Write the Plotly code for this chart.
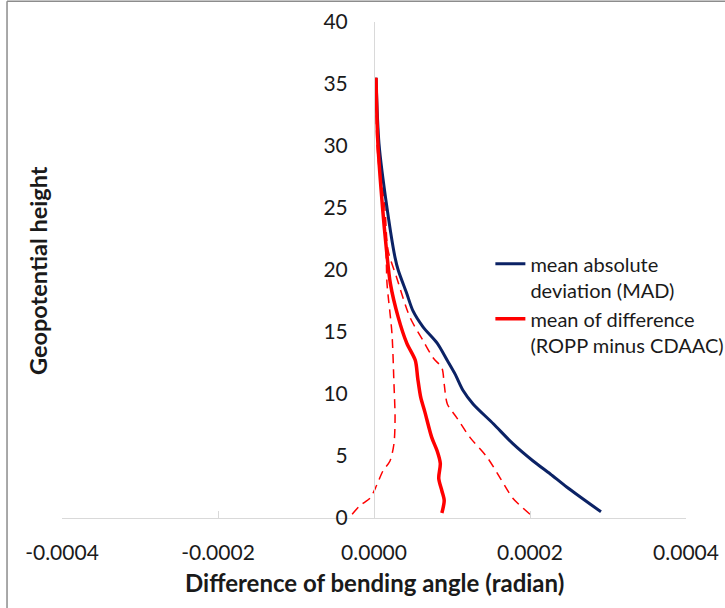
import plotly.graph_objects as go

# ---- data ----
mad_height = [0.5, 2.5, 3.55, 4.6, 6.0, 7.6, 9.2, 10.3, 11.6, 12.7, 14.1, 15.4, 16.7, 18.1, 20.0, 21.0, 25.0, 30.2, 35.5]
mad_value = [2.91e-4, 2.47e-4, 2.26e-4, 2.04e-4, 1.78e-4, 1.53e-4, 1.27e-4, 1.14e-4, 1.04e-4, 9.4e-5,
             8.1e-5, 6.3e-5, 5.0e-5, 4.2e-5, 3.1e-5, 2.7e-5, 1.67e-5, 6.4e-6, 2.6e-6]

mean_height = [0.4, 1.4, 2.2, 3.2, 4.4, 5.4, 6.5, 8.6, 9.7, 11.3, 12.7, 14.1, 16.2, 18.9, 21.6, 25.0, 30.2, 35.5]
mean_value = [8.7e-5, 9.0e-5, 8.7e-5, 8.3e-5, 8.5e-5, 8.1e-5, 7.4e-5, 6.5e-5, 6.0e-5, 5.6e-5,
              5.3e-5, 4.2e-5, 3.1e-5, 2.1e-5, 1.6e-5, 1.1e-5, 5.0e-6, 2.6e-6]

upper_height = [0.3, 1.6, 3.2, 4.9, 6.5, 8.1, 9.2, 10.8, 12.1, 12.9, 14.3, 16.2, 19.4, 21.6, 25.0, 30.2, 35.5]
upper_value = [2.0e-4, 1.78e-4, 1.62e-4, 1.45e-4, 1.23e-4, 1.06e-4, 9.4e-5, 9.0e-5, 8.7e-5, 7.6e-5,
               6.3e-5, 4.6e-5, 2.9e-5, 1.8e-5, 1.4e-5, 5.0e-6, 2.6e-6]

lower_height = [0.3, 1.0, 1.6, 2.7, 3.8, 4.6, 6.0, 8.1, 10.8, 14.9, 18.9, 21.6, 25.0, 30.2, 35.5]
lower_value = [-2.8e-5, -1.8e-5, -5.0e-6, 3.8e-6, 1.15e-5, 2.05e-5, 2.56e-5, 2.7e-5, 2.56e-5, 2.3e-5,
               1.67e-5, 1.54e-5, 1.15e-5, 3.8e-6, 2.6e-6]

x_tick_values = [-0.0004, -0.0002, 0.0, 0.0002, 0.0004]
x_tick_labels = ["-0.0004", "-0.0002", "0.0000", "0.0002", "0.0004"]
y_tick_values = [0, 5, 10, 15, 20, 25, 30, 35, 40]

NAVY = "#0b2265"
RED = "#ff0000"
FONT = "Lato"
TXT = "#1a1a1a"

fig = go.Figure()
fig.add_trace(go.Scatter(x=lower_value, y=lower_height, mode="lines", showlegend=False,
                         line=dict(color=RED, width=1.5, dash="9px,6px", shape="spline", smoothing=0.8)))
fig.add_trace(go.Scatter(x=upper_value, y=upper_height, mode="lines", showlegend=False,
                         line=dict(color=RED, width=1.5, dash="9px,6px", shape="spline", smoothing=0.8)))
fig.add_trace(go.Scatter(x=mad_value, y=mad_height, mode="lines",
                         name="mean absolute<br>deviation (MAD)",
                         line=dict(color=NAVY, width=3, shape="spline", smoothing=0.8)))
fig.add_trace(go.Scatter(x=mean_value, y=mean_height, mode="lines",
                         name="mean of difference<br>(ROPP minus CDAAC)",
                         line=dict(color=RED, width=3.5, shape="spline", smoothing=0.8)))

fig.update_layout(
    width=725, height=608,
    margin=dict(l=62, r=39, t=22, b=90, pad=0, autoexpand=False),
    paper_bgcolor="white", plot_bgcolor="white",
    font=dict(family=FONT, size=21, color=TXT),
    legend=dict(x=0.6865, y=0.552, xanchor="left", yanchor="top", valign="top",
                font=dict(family=FONT, size=20, color=TXT), bgcolor="rgba(0,0,0,0)",
                itemwidth=30, traceorder="normal"),
    xaxis=dict(range=[-0.0004, 0.0004], tickvals=x_tick_values, ticktext=x_tick_labels,
               showgrid=False, zeroline=False, showline=True, linecolor="#d9d9d9", linewidth=1,
               ticks="inside", ticklen=7, tickcolor="#d9d9d9", ticklabelstandoff=16,
               automargin=False, tickfont=dict(family=FONT, size=21, color=TXT)),
    yaxis=dict(range=[0, 40], tickvals=y_tick_values, anchor="free", position=0.5,
               showgrid=False, zeroline=False, showline=True, linecolor="#d9d9d9", linewidth=1,
               ticks="", ticklabelstandoff=22, automargin=False,
               tickfont=dict(family=FONT, size=21, color=TXT)),
    annotations=[
        dict(text="<b>Difference of bending angle (radian)</b>", xref="paper", yref="paper",
             x=0.5, y=-0.131, xanchor="center", yanchor="middle", showarrow=False,
             font=dict(family=FONT, size=24, color=TXT)),
        dict(text="<b>Geopotential height</b>", xref="paper", yref="paper",
             x=-0.0385, y=0.5, xanchor="center", yanchor="middle", showarrow=False, textangle=-90,
             font=dict(family=FONT, size=23.5, color=TXT)),
    ],
    shapes=[
        dict(type="line", xref="paper", yref="paper", x0=-0.0881, x1=-0.0881, y0=-0.2, y1=1.0418,
             line=dict(color="#8c8c8c", width=1.5)),
        dict(type="line", xref="paper", yref="paper", x0=-0.0881, x1=1.07, y0=1.0418, y1=1.0418,
             line=dict(color="#8c8c8c", width=1.5)),
    ],
)

fig.write_html("out.html", config={"displayModeBar": False},
               post_script="document.body.style.margin='0';")
